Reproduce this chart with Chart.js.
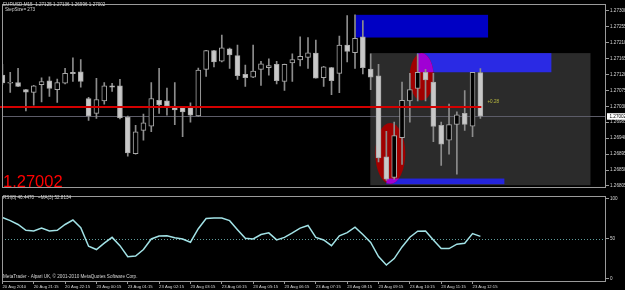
<!DOCTYPE html>
<html>
<head>
<meta charset="utf-8">
<script src="https://cdn.jsdelivr.net/npm/chart.js@4.4.0/dist/chart.umd.min.js"></script>
<style>
  html, body { margin: 0; padding: 0; background: #000; }
  #wrap { position: relative; width: 625px; height: 290px; overflow: hidden; background: #000; }
  canvas { position: absolute; left: 0; }
  #priceChart { top: 0; }
  #rsiChart { top: 192px; }
</style>
</head>
<body>
<div id="wrap">
  <canvas id="priceChart" width="625" height="192"></canvas>
  <canvas id="rsiChart" width="625" height="98"></canvas>
</div>
<script>
// EURUSD M15 candles (20-23 Aug 2010)
const opens = [1.27118, 1.27095, 1.27097, 1.27077, 1.27069, 1.27091, 1.27102, 1.27077, 1.27095, 1.27126,
  1.27127, 1.27052, 1.27010, 1.27045, 1.27088, 1.27088, 1.26999, 1.26896, 1.26962, 1.26974,
  1.27047, 1.27045, 1.27026, 1.27026, 1.27026, 1.27003, 1.27134, 1.27187, 1.27157, 1.27192,
  1.27173, 1.27120, 1.27112, 1.27134, 1.27139, 1.27148, 1.27100, 1.27152, 1.27161, 1.27168,
  1.27180, 1.27111, 1.27139, 1.27123, 1.27203, 1.27181, 1.27226, 1.27135, 1.27116, 1.26887,
  1.26829, 1.26941, 1.27045, 1.27080, 1.27126, 1.27098, 1.26976, 1.26934, 1.26979, 1.27010,
  1.26974, 1.27125]
const highs = [1.27148, 1.27126, 1.27137, 1.27078, 1.27089, 1.27110, 1.27113, 1.27107, 1.27137, 1.27167,
  1.27162, 1.27055, 1.27109, 1.27097, 1.27095, 1.27106, 1.27002, 1.26976, 1.27008, 1.27097,
  1.27137, 1.27081, 1.27097, 1.27029, 1.27040, 1.27138, 1.27188, 1.27188, 1.27231, 1.27194,
  1.27203, 1.27146, 1.27203, 1.27157, 1.27164, 1.27157, 1.27149, 1.27178, 1.27226, 1.27224,
  1.27217, 1.27143, 1.27140, 1.27228, 1.27286, 1.27288, 1.27272, 1.27178, 1.27148, 1.26959,
  1.26985, 1.27098, 1.27123, 1.27178, 1.27134, 1.27123, 1.26985, 1.27036, 1.27014, 1.27074,
  1.27126, 1.27136]
const lows = [1.27091, 1.27069, 1.27085, 1.27017, 1.27033, 1.27042, 1.27058, 1.27041, 1.27093, 1.27100,
  1.27084, 1.26990, 1.26996, 1.27036, 1.27072, 1.26994, 1.26889, 1.26895, 1.26934, 1.26958,
  1.27010, 1.27005, 1.26978, 1.26944, 1.26985, 1.27001, 1.27114, 1.27141, 1.27155, 1.27137,
  1.27106, 1.27086, 1.27111, 1.27089, 1.27118, 1.27093, 1.27075, 1.27100, 1.27144, 1.27137,
  1.27109, 1.27086, 1.27063, 1.27068, 1.27155, 1.27137, 1.27121, 1.27077, 1.26873, 1.26821,
  1.26824, 1.26866, 1.26985, 1.27045, 1.27045, 1.26930, 1.26863, 1.26895, 1.26838, 1.26962,
  1.26944, 1.26996]
const closes = [1.27096, 1.27097, 1.27086, 1.27070, 1.27088, 1.27100, 1.27080, 1.27097, 1.27123, 1.27122,
  1.27100, 1.27003, 1.27049, 1.27088, 1.27084, 1.26997, 1.26898, 1.26958, 1.26983, 1.27052,
  1.27034, 1.27031, 1.27020, 1.27014, 1.27005, 1.27132, 1.27187, 1.27155, 1.27195, 1.27175,
  1.27116, 1.27111, 1.27129, 1.27150, 1.27145, 1.27102, 1.27148, 1.27162, 1.27171, 1.27181,
  1.27109, 1.27141, 1.27102, 1.27203, 1.27185, 1.27222, 1.27139, 1.27112, 1.26884, 1.26824,
  1.26947, 1.27047, 1.27077, 1.27126, 1.27104, 1.26973, 1.26923, 1.26978, 1.27006, 1.26979,
  1.27126, 1.27002]

// MA(3) of RSI(8), same bars
const rsiValues = [76.6, 72.6, 67.8, 60.5, 59.7, 63.3, 59.7, 60.5, 67.8, 73.4,
  63.7, 40.4, 36.3, 44.3, 51.6, 41.2, 27.2, 28.2, 36.3, 49.6,
  53.3, 53.6, 51.2, 49.6, 45.5, 62.5, 75.3, 75.8, 75.8, 72.6,
  61.3, 50.4, 49.6, 55.2, 57.3, 48.4, 51.6, 57.3, 63.3, 66.6,
  51.6, 48.4, 41.2, 53.6, 57.6, 64.5, 55.2, 45.2, 27.4, 16.9,
  24.9, 39.6, 51.8, 59.3, 59.7, 48.4, 37.5, 37.5, 43.1, 44.3,
  56.4, 52.8]

const priceTicks = [1.27300, 1.27255, 1.27210, 1.27165, 1.27120, 1.27075, 1.27030, 1.26985,
  1.26940, 1.26895, 1.26850, 1.26805]
const rsiTicks = [100, 50, 0]
const timeLabels = ['20 Aug 2010', '20 Aug 21:15', '20 Aug 22:15', '23 Aug 00:15', '23 Aug 01:15',
  '23 Aug 02:15', '23 Aug 03:15', '23 Aug 04:15', '23 Aug 05:15', '23 Aug 06:15', '23 Aug 07:15',
  '23 Aug 08:15', '23 Aug 09:15', '23 Aug 10:15', '23 Aug 11:15', '23 Aug 12:15']

const lastPrice = 1.27002
const levelPrice = 1.27028

// objects drawn on the chart (bar index / price units)
const boxes = [
  { x0: 46.95, x1: 75.05, y0: 1.26807, y1: 1.27180, color: '#2b2b2b', blue: false },
  { x0: 45.07, x1: 61.98, y0: 1.27224, y1: 1.27288, color: '#0000c4', blue: true },
  { x0: 52.9, x1: 70.06, y0: 1.27126, y1: 1.27180, color: '#2a2ae4', blue: true },
  { x0: 49.0, x1: 64.06, y0: 1.26810, y1: 1.26826, color: '#2424dc', blue: true }
]
const ellipses = [
  { x: 53.5, y: 1.27113, rx: 1.53, ry: 0.00067 },
  { x: 49.5, y: 1.26897, rx: 1.92, ry: 0.00086 }
]

const xMin = -0.05
const xMax = 77.03
const smallFont = '4.6px "Liberation Sans"'
const frameColor = '#9a9a9a'
const textColor = '#d6d6d6'

const idx = opens.map((_, i) => i)
const wickData = idx.map(i => ({ x: i, y: [lows[i], highs[i]] }))
const bodyData = idx.map(i => ({ x: i, y: [Math.min(opens[i], closes[i]), Math.max(opens[i], closes[i])] }))
const bodyFill = idx.map(i => (closes[i] < opens[i] ? '#c8c8c8' : '#000000'))

function frame(ctx, a) {
  ctx.strokeStyle = frameColor
  ctx.lineWidth = 1
  ctx.strokeRect(Math.round(a.left) + 0.5, Math.round(a.top) + 0.5, Math.round(a.width) - 1, Math.round(a.height) - 1)
}

const priceOverlay = {
  id: 'priceOverlay',
  beforeDatasetsDraw(chart) {
    const { ctx, chartArea: a, scales: { x, y } } = chart
    ctx.save()
    ctx.beginPath()
    ctx.rect(a.left, a.top, a.width, a.height)
    ctx.clip()

    boxes.forEach(b => {
      const px0 = x.getPixelForValue(b.x0), px1 = x.getPixelForValue(b.x1)
      const py0 = y.getPixelForValue(b.y1), py1 = y.getPixelForValue(b.y0)
      ctx.fillStyle = b.color
      ctx.fillRect(px0, py0, px1 - px0, py1 - py0)
    })

    ellipses.forEach(e => {
      const cx = x.getPixelForValue(e.x), cy = y.getPixelForValue(e.y)
      const rx = x.getPixelForValue(e.x + e.rx) - cx
      const ry = cy - y.getPixelForValue(e.y + e.ry)
      ctx.save()
      ctx.beginPath()
      ctx.ellipse(cx, cy, rx, ry, 0, 0, Math.PI * 2)
      ctx.fillStyle = '#a00000'
      ctx.fill()
      ctx.clip()
      // where the ellipse sits on a blue box it turns purple
      boxes.filter(b => b.blue).forEach(b => {
        const px0 = x.getPixelForValue(b.x0), px1 = x.getPixelForValue(b.x1)
        const py0 = y.getPixelForValue(b.y1), py1 = y.getPixelForValue(b.y0)
        ctx.fillStyle = '#a000d4'
        ctx.fillRect(px0, py0, px1 - px0, py1 - py0)
      })
      ctx.restore()
    })

    // bid line
    const yl = Math.round(y.getPixelForValue(lastPrice)) + 0.5
    ctx.strokeStyle = '#5c5c68'
    ctx.lineWidth = 1
    ctx.beginPath()
    ctx.moveTo(a.left, yl)
    ctx.lineTo(a.right, yl)
    ctx.stroke()
    ctx.restore()
  },
  afterDatasetsDraw(chart) {
    const { ctx, chartArea: a, scales: { x, y } } = chart
    const yr = y.getPixelForValue(levelPrice)
    ctx.save()
    ctx.strokeStyle = '#d40000'
    ctx.lineWidth = 2
    ctx.beginPath()
    ctx.moveTo(0, yr)
    ctx.lineTo(x.getPixelForValue(61.12), yr)
    ctx.stroke()

    ctx.fillStyle = '#bcbc40'
    ctx.font = smallFont
    ctx.textBaseline = 'middle'
    ctx.fillText('+0.28', x.getPixelForValue(61.9), yr - 5.5)
    ctx.restore()
  },
  afterDraw(chart) {
    const { ctx, chartArea: a, scales: { y } } = chart
    ctx.save()
    frame(ctx, a)

    ctx.fillStyle = textColor
    ctx.font = smallFont
    ctx.textBaseline = 'middle'
    ctx.fillText('EURUSD,M15  1.27125 1.27136 1.26996 1.27002', 3, 5.2)
    ctx.fillText('StepSize= 273', 5, 10.2)

    ctx.fillStyle = '#ff0000'
    ctx.font = '16.5px "Liberation Sans"'
    ctx.textBaseline = 'alphabetic'
    ctx.fillText('1.27002', 3, 187.3)

    // current price label on the axis
    const yl = y.getPixelForValue(lastPrice)
    ctx.fillStyle = '#ffffff'
    ctx.fillRect(607, yl - 3, 18, 6.5)
    ctx.fillStyle = '#000000'
    ctx.font = smallFont
    ctx.textBaseline = 'middle'
    ctx.fillText('1.27002', 609.5, yl + 0.3)
    ctx.restore()
  }
}

const rsiOverlay = {
  id: 'rsiOverlay',
  beforeDatasetsDraw(chart) {
    const { ctx, chartArea: a, scales: { y } } = chart
    const y50 = Math.round(y.getPixelForValue(50)) + 0.5
    ctx.save()
    ctx.strokeStyle = '#5f9c9c'
    ctx.lineWidth = 1
    ctx.setLineDash([1, 2])
    ctx.beginPath()
    ctx.moveTo(a.left, y50)
    ctx.lineTo(a.right, y50)
    ctx.stroke()
    ctx.restore()
  },
  afterDraw(chart) {
    const { ctx, chartArea: a } = chart
    ctx.save()
    frame(ctx, a)
    ctx.fillStyle = textColor
    ctx.font = smallFont
    ctx.textBaseline = 'middle'
    ctx.fillText('RSI(8) 46.4470   ~MA(3) 52.8134', 3, 5.5)
    ctx.fillText('MetaTrader - Alpari UK, \u00a9 2001-2010 MetaQuotes Software Corp.', 3, 84.5)
    ctx.restore()
  }
}

const axisFont = { family: 'Liberation Sans', size: 4.6 }

new Chart(document.getElementById('priceChart'), {
  type: 'bar',
  data: {
    datasets: [
      {
        label: 'wicks',
        data: wickData,
        backgroundColor: '#8c8c8c',
        barThickness: 1,
        grouped: false,
        order: 2
      },
      {
        label: 'bodies',
        data: bodyData,
        backgroundColor: bodyFill,
        borderColor: '#a8a8a8',
        borderWidth: 1,
        borderSkipped: false,
        barThickness: 5,
        minBarLength: 1,
        grouped: false,
        order: 1
      }
    ]
  },
  options: {
    responsive: false,
    devicePixelRatio: 1,
    animation: false,
    layout: { padding: { left: 2, top: 2, right: 0, bottom: 1 } },
    plugins: { legend: { display: false }, tooltip: { enabled: false } },
    scales: {
      x: {
        type: 'linear',
        min: xMin,
        max: xMax,
        offset: false,
        display: false,
        grid: { offset: false }
      },
      y: {
        type: 'linear',
        position: 'right',
        min: 1.267986,
        max: 1.273193,
        afterBuildTicks: s => { s.ticks = priceTicks.map(v => ({ value: v })) },
        afterFit: s => { s.width = 19 },
        ticks: { color: textColor, font: axisFont, padding: 1, callback: v => v.toFixed(5) },
        grid: { drawOnChartArea: false, color: frameColor, tickLength: 3 },
        border: { display: false }
      }
    }
  },
  plugins: [priceOverlay]
})

new Chart(document.getElementById('rsiChart'), {
  type: 'line',
  data: {
    datasets: [{
      label: 'RSI',
      data: idx.map(i => ({ x: i, y: rsiValues[i] })),
      borderColor: '#a2e2e6',
      borderWidth: 1.5,
      pointRadius: 0,
      tension: 0
    }]
  },
  options: {
    responsive: false,
    devicePixelRatio: 1,
    animation: false,
    layout: { padding: { left: 2, top: 0, right: 0, bottom: 0 } },
    plugins: { legend: { display: false }, tooltip: { enabled: false } },
    scales: {
      x: {
        type: 'linear',
        min: xMin,
        max: xMax,
        offset: false,
        afterBuildTicks: s => { s.ticks = timeLabels.map((_, k) => ({ value: k * 4 })) },
        afterFit: s => { s.height = 8 },
        ticks: {
          color: textColor, font: { family: 'Liberation Sans', size: 4.2 }, align: 'start',
          maxRotation: 0, minRotation: 0, autoSkip: false, padding: 0,
          callback: (v, k) => timeLabels[k]
        },
        grid: { drawOnChartArea: false, color: frameColor, tickLength: 2 },
        border: { display: false }
      },
      y: {
        type: 'linear',
        position: 'right',
        min: -4.5,
        max: 103.9,
        afterBuildTicks: s => { s.ticks = rsiTicks.map(v => ({ value: v })) },
        afterFit: s => { s.width = 19 },
        ticks: { color: textColor, font: axisFont, padding: 1 },
        grid: { drawOnChartArea: false, color: frameColor, tickLength: 3 },
        border: { display: false }
      }
    }
  },
  plugins: [rsiOverlay]
})
</script>
</body>
</html>
